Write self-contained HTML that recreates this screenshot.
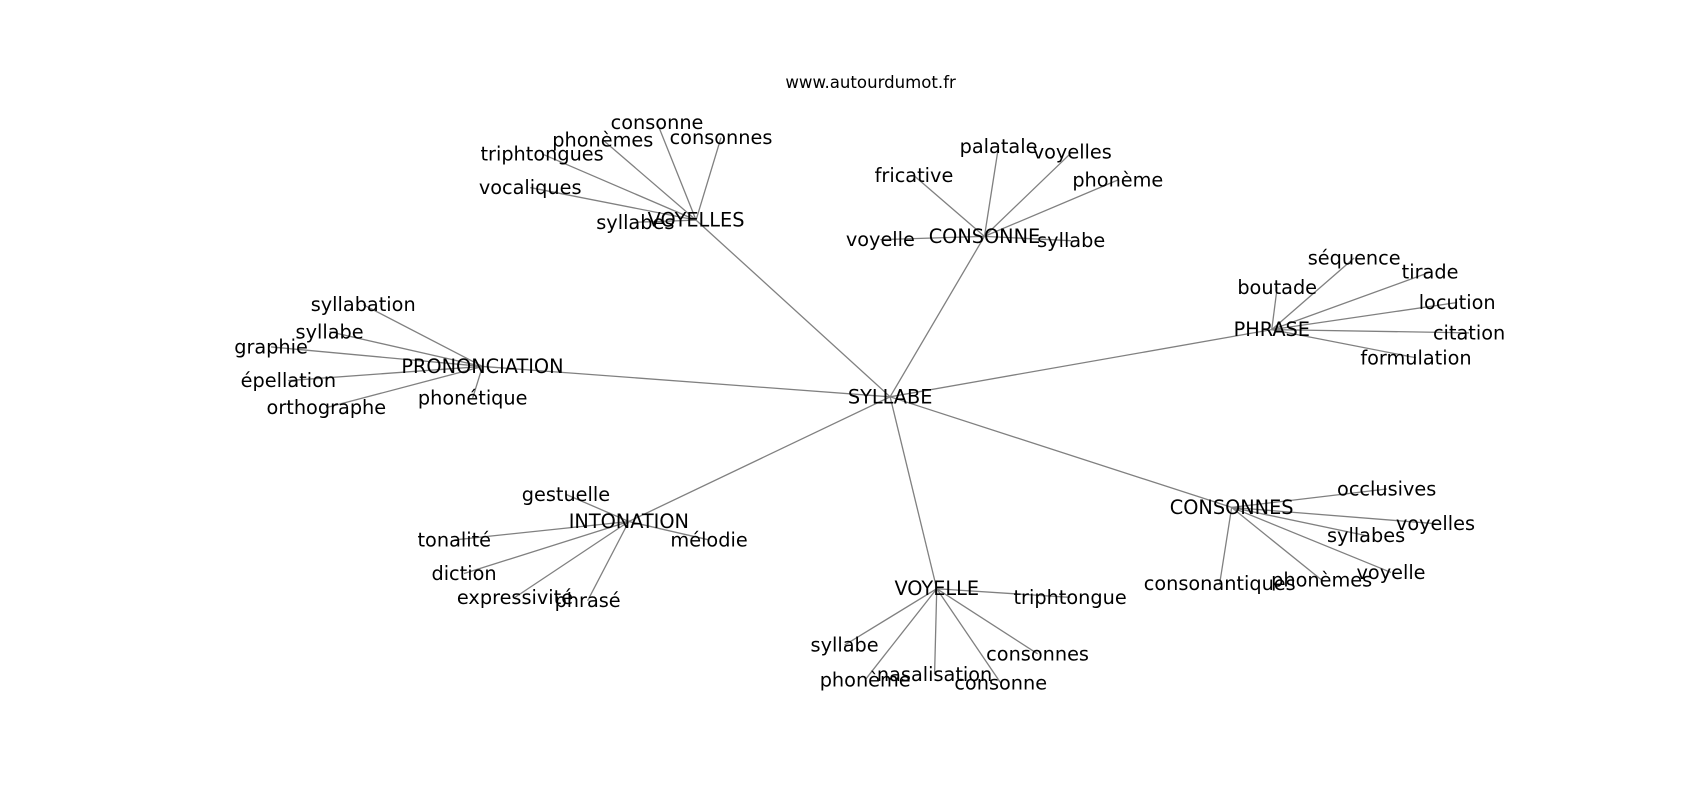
<!DOCTYPE html>
<html><head><meta charset="utf-8"><style>
html,body{margin:0;padding:0;background:#fff;}
svg text{font-family:"DejaVu Sans","Liberation Sans",sans-serif;font-size:17.8px;fill:#000;text-anchor:middle;dominant-baseline:central;}
</style></head><body>
<svg width="1700" height="800" viewBox="0 0 1700 800" xmlns="http://www.w3.org/2000/svg">
<rect width="1700" height="800" fill="#fff"/>
<g transform="scale(1.0842)">
<g stroke="#808080" stroke-width="1.2" fill="none">
<line x1="821" y1="366" x2="642" y2="203"/>
<line x1="821" y1="366" x2="908" y2="218"/>
<line x1="821" y1="366" x2="1173" y2="304"/>
<line x1="821" y1="366" x2="445" y2="338"/>
<line x1="821" y1="366" x2="580" y2="481"/>
<line x1="821" y1="366" x2="864" y2="543"/>
<line x1="821" y1="366" x2="1136" y2="468"/>
<line x1="642" y1="203" x2="606" y2="113"/>
<line x1="642" y1="203" x2="556" y2="129"/>
<line x1="642" y1="203" x2="665" y2="127"/>
<line x1="642" y1="203" x2="500" y2="142"/>
<line x1="642" y1="203" x2="489" y2="173"/>
<line x1="642" y1="203" x2="586" y2="205"/>
<line x1="908" y1="218" x2="921" y2="135"/>
<line x1="908" y1="218" x2="989" y2="140"/>
<line x1="908" y1="218" x2="843" y2="162"/>
<line x1="908" y1="218" x2="1031" y2="166"/>
<line x1="908" y1="218" x2="812" y2="221"/>
<line x1="908" y1="218" x2="988" y2="222"/>
<line x1="1173" y1="304" x2="1249" y2="238"/>
<line x1="1173" y1="304" x2="1319" y2="251"/>
<line x1="1173" y1="304" x2="1178" y2="265"/>
<line x1="1173" y1="304" x2="1344" y2="279"/>
<line x1="1173" y1="304" x2="1355" y2="307"/>
<line x1="1173" y1="304" x2="1306" y2="330"/>
<line x1="445" y1="338" x2="335" y2="281"/>
<line x1="445" y1="338" x2="304" y2="306"/>
<line x1="445" y1="338" x2="250" y2="320"/>
<line x1="445" y1="338" x2="266" y2="351"/>
<line x1="445" y1="338" x2="301" y2="376"/>
<line x1="445" y1="338" x2="436" y2="367"/>
<line x1="580" y1="481" x2="522" y2="456"/>
<line x1="580" y1="481" x2="419" y2="498"/>
<line x1="580" y1="481" x2="654" y2="498"/>
<line x1="580" y1="481" x2="428" y2="529"/>
<line x1="580" y1="481" x2="475" y2="551"/>
<line x1="580" y1="481" x2="542" y2="554"/>
<line x1="864" y1="543" x2="987" y2="551"/>
<line x1="864" y1="543" x2="779" y2="595"/>
<line x1="864" y1="543" x2="957" y2="603"/>
<line x1="864" y1="543" x2="798" y2="627"/>
<line x1="864" y1="543" x2="862" y2="622"/>
<line x1="864" y1="543" x2="923" y2="630"/>
<line x1="1136" y1="468" x2="1279" y2="451"/>
<line x1="1136" y1="468" x2="1324" y2="483"/>
<line x1="1136" y1="468" x2="1260" y2="494"/>
<line x1="1136" y1="468" x2="1283" y2="528"/>
<line x1="1136" y1="468" x2="1125" y2="538"/>
<line x1="1136" y1="468" x2="1219" y2="535"/>
</g>
<text x="803" y="76" style="font-size:15.3px">www.autourdumot.fr</text>
<text x="821" y="366">SYLLABE</text>
<text x="642" y="203">VOYELLES</text>
<text x="606" y="113">consonne</text>
<text x="556" y="129">phonèmes</text>
<text x="665" y="127">consonnes</text>
<text x="500" y="142">triphtongues</text>
<text x="489" y="173">vocaliques</text>
<text x="586" y="205">syllabes</text>
<text x="908" y="218">CONSONNE</text>
<text x="921" y="135">palatale</text>
<text x="989" y="140">voyelles</text>
<text x="843" y="162">fricative</text>
<text x="1031" y="166">phonème</text>
<text x="812" y="221">voyelle</text>
<text x="988" y="222">syllabe</text>
<text x="1173" y="304">PHRASE</text>
<text x="1249" y="238">séquence</text>
<text x="1319" y="251">tirade</text>
<text x="1178" y="265">boutade</text>
<text x="1344" y="279">locution</text>
<text x="1355" y="307">citation</text>
<text x="1306" y="330">formulation</text>
<text x="445" y="338">PRONONCIATION</text>
<text x="335" y="281">syllabation</text>
<text x="304" y="306">syllabe</text>
<text x="250" y="320">graphie</text>
<text x="266" y="351">épellation</text>
<text x="301" y="376">orthographe</text>
<text x="436" y="367">phonétique</text>
<text x="580" y="481">INTONATION</text>
<text x="522" y="456">gestuelle</text>
<text x="419" y="498">tonalité</text>
<text x="654" y="498">mélodie</text>
<text x="428" y="529">diction</text>
<text x="475" y="551">expressivité</text>
<text x="542" y="554">phrasé</text>
<text x="864" y="543">VOYELLE</text>
<text x="987" y="551">triphtongue</text>
<text x="779" y="595">syllabe</text>
<text x="957" y="603">consonnes</text>
<text x="798" y="627">phonème</text>
<text x="862" y="622">nasalisation</text>
<text x="923" y="630">consonne</text>
<text x="1136" y="468">CONSONNES</text>
<text x="1279" y="451">occlusives</text>
<text x="1324" y="483">voyelles</text>
<text x="1260" y="494">syllabes</text>
<text x="1283" y="528">voyelle</text>
<text x="1125" y="538">consonantiques</text>
<text x="1219" y="535">phonèmes</text>
</g>
</svg>
</body></html>
